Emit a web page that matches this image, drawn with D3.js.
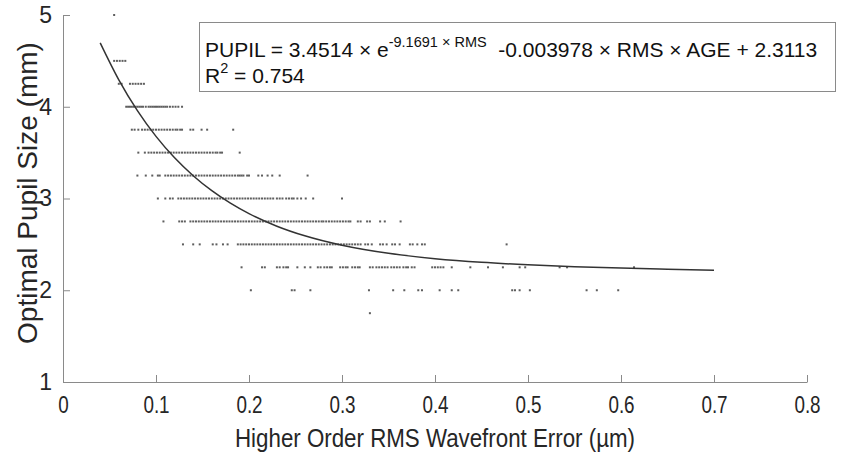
<!DOCTYPE html>
<html><head><meta charset="utf-8">
<script src="https://cdn.jsdelivr.net/npm/d3@7"></script>
<style>
body{margin:0;background:#fff;}
text{font-family:"Liberation Sans",Arial,Helvetica,sans-serif;}
</style></head>
<body><svg id="c" width="844" height="455"></svg>
<script>
// ---- data ----
const xTicks = [0, 0.1, 0.2, 0.3, 0.4, 0.5, 0.6, 0.7, 0.8];
const yTicks = [1, 2, 3, 4, 5];
const xTickLabels = ["0", "0.1", "0.2", "0.3", "0.4", "0.5", "0.6", "0.7", "0.8"];
const yTickLabels = ["1", "2", "3", "4", "5"];

// scatter: optimal pupil size level -> RMS values
const pupilLevels = [5, 4.5, 4.25, 4, 3.75, 3.5, 3.25, 3, 2.75, 2.5, 2.25, 2, 1.75];
const rms_5_00 = [0.055];
const rms_4_50 = [0.055,0.058,0.061,0.064,0.067];
const rms_4_25 = [0.060,0.063,0.072,0.075,0.078,0.081,0.084,0.087];
const rms_4_00 = [0.068,0.070,0.072,0.074,0.076,0.078,0.080,0.082,0.084,0.086,0.089,0.092,0.094,0.096,0.098,0.100,0.102,0.104,0.106,0.108,0.110,0.112,0.115,0.118,0.121,0.124,0.128];
const rms_3_75 = [0.074,0.077,0.081,0.085,0.088,0.091,0.094,0.097,0.100,0.103,0.106,0.109,0.112,0.115,0.118,0.121,0.123,0.126,0.128,0.137,0.140,0.149,0.155,0.183];
const rms_3_50 = [0.081,0.088,0.092,0.095,0.098,0.101,0.104,0.107,0.110,0.113,0.116,0.119,0.122,0.125,0.128,0.131,0.134,0.137,0.140,0.143,0.146,0.149,0.152,0.155,0.158,0.161,0.164,0.166,0.169,0.171,0.190];
const rms_3_25 = [0.080,0.089,0.096,0.102,0.104,0.110,0.113,0.116,0.119,0.122,0.125,0.128,0.131,0.134,0.137,0.140,0.143,0.146,0.149,0.152,0.155,0.158,0.161,0.164,0.167,0.170,0.173,0.176,0.179,0.182,0.185,0.188,0.190,0.192,0.194,0.198,0.200,0.210,0.214,0.220,0.225,0.233,0.263];
const rms_3_00 = [0.102,0.110,0.115,0.118,0.124,0.127,0.130,0.133,0.136,0.139,0.142,0.145,0.148,0.151,0.154,0.157,0.160,0.163,0.166,0.169,0.172,0.175,0.178,0.181,0.184,0.187,0.190,0.193,0.196,0.199,0.202,0.205,0.208,0.211,0.214,0.217,0.220,0.223,0.226,0.230,0.233,0.236,0.240,0.243,0.246,0.248,0.252,0.256,0.261,0.269,0.300];
const rms_2_75 = [0.108,0.125,0.128,0.131,0.137,0.140,0.143,0.146,0.149,0.152,0.155,0.158,0.161,0.164,0.167,0.170,0.173,0.176,0.179,0.182,0.185,0.188,0.191,0.194,0.197,0.200,0.203,0.206,0.209,0.212,0.215,0.218,0.221,0.224,0.227,0.230,0.233,0.236,0.239,0.242,0.245,0.248,0.251,0.254,0.257,0.260,0.263,0.266,0.269,0.272,0.275,0.278,0.280,0.283,0.286,0.289,0.292,0.295,0.298,0.301,0.304,0.307,0.309,0.317,0.320,0.327,0.330,0.341,0.346,0.363];
const rms_2_50 = [0.129,0.140,0.147,0.161,0.165,0.172,0.177,0.188,0.191,0.194,0.197,0.200,0.203,0.206,0.209,0.212,0.215,0.218,0.221,0.224,0.227,0.230,0.233,0.236,0.239,0.242,0.245,0.248,0.251,0.254,0.257,0.260,0.263,0.266,0.269,0.272,0.275,0.278,0.281,0.284,0.287,0.290,0.293,0.296,0.299,0.302,0.305,0.308,0.311,0.314,0.317,0.320,0.325,0.328,0.332,0.341,0.344,0.348,0.354,0.357,0.362,0.373,0.376,0.381,0.386,0.389,0.477];
const rms_2_25 = [0.192,0.214,0.217,0.230,0.233,0.237,0.240,0.242,0.252,0.260,0.266,0.274,0.277,0.281,0.284,0.287,0.289,0.298,0.301,0.304,0.306,0.311,0.314,0.317,0.319,0.330,0.333,0.337,0.340,0.343,0.346,0.349,0.353,0.356,0.359,0.362,0.366,0.369,0.371,0.375,0.378,0.397,0.400,0.403,0.406,0.409,0.418,0.438,0.457,0.473,0.491,0.497,0.534,0.542,0.614];
const rms_2_00 = [0.202,0.246,0.249,0.266,0.329,0.355,0.367,0.382,0.386,0.405,0.418,0.425,0.483,0.486,0.491,0.502,0.563,0.574,0.597];
const rms_1_75 = [0.330];
const rmsByLevel = [rms_5_00, rms_4_50, rms_4_25, rms_4_00, rms_3_75, rms_3_50, rms_3_25, rms_3_00, rms_2_75, rms_2_50, rms_2_25, rms_2_00, rms_1_75];

// fitted curve
const fitRms   = [0.04, 0.06, 0.08, 0.10, 0.12, 0.14, 0.16, 0.18, 0.20, 0.23, 0.26, 0.30, 0.35, 0.40, 0.45, 0.50, 0.55, 0.60, 0.65, 0.70];
const fitPupil = [4.697, 4.294, 3.958, 3.677, 3.443, 3.248, 3.085, 2.949, 2.835, 2.698, 2.593, 2.490, 2.402, 2.344, 2.304, 2.277, 2.257, 2.242, 2.230, 2.219];

// ---- drawing ----
const svg = d3.select("#c");
const L = 63, R = 807, T = 15, B = 382;
const x = d3.scaleLinear().domain([0, 0.8]).range([L, R]);
const y = d3.scaleLinear().domain([1, 5]).range([B, T]);
const axisCol = "#8a8a8a", textCol = "#262626";

// scatter
const pts = [];
pupilLevels.forEach((lv, i) => rmsByLevel[i].forEach(v => pts.push([v, lv])));
svg.append("g").selectAll("rect").data(pts).join("rect")
  .attr("x", d => x(d[0]) - 1).attr("y", d => y(d[1]) - 1)
  .attr("width", 2).attr("height", 2)
  .attr("fill", "#5e5e5e");

// fit line
const fit = fitRms.map((v, i) => [v, fitPupil[i]]);
svg.append("path").datum(fit)
  .attr("d", d3.line().x(d => x(d[0])).y(d => y(d[1])).curve(d3.curveMonotoneX))
  .attr("fill", "none").attr("stroke", "#333").attr("stroke-width", 1.5);

// axes
const xa = svg.append("g").attr("transform", `translate(0,${B})`)
  .call(d3.axisBottom(x).tickValues(xTicks).tickFormat((d, i) => xTickLabels[i]).tickSizeInner(-7).tickSizeOuter(0).tickPadding(15));
const ya = svg.append("g").attr("transform", `translate(${L},0)`)
  .call(d3.axisLeft(y).tickValues(yTicks).tickFormat((d, i) => yTickLabels[i]).tickSizeInner(-7).tickSizeOuter(0).tickPadding(11));
[xa, ya].forEach(a => {
  a.select(".domain").attr("stroke", axisCol);
  a.selectAll(".tick line").attr("stroke", axisCol);
  a.selectAll(".tick text").attr("fill", textCol).attr("font-size", 23).attr("font-family", "Liberation Sans, Arial, sans-serif");
});
xa.selectAll(".tick text").attr("transform", "scale(0.82,1)");

// axis titles
svg.append("text").attr("x", (L + R) / 2).attr("y", 447).attr("text-anchor", "middle")
  .attr("font-size", 26).attr("fill", textCol)
  .attr("textLength", 400).attr("lengthAdjust", "spacingAndGlyphs")
  .text("Higher Order RMS Wavefront Error (µm)");
svg.append("text").attr("transform", `translate(37,193) rotate(-90)`).attr("text-anchor", "middle")
  .attr("font-size", 28).attr("fill", textCol).text("Optimal Pupil Size (mm)");

// equation box
svg.append("rect").attr("x", 199.5).attr("y", 22.5).attr("width", 636).attr("height", 69)
  .attr("fill", "#fff").attr("stroke", "#8a8a8a").attr("stroke-width", 1);
const eq = svg.append("text").attr("x", 205).attr("y", 57).attr("font-size", 21).attr("fill", "#111");
eq.append("tspan").text("PUPIL = 3.4514 \u00d7 e");
eq.append("tspan").attr("dy", -10).attr("font-size", 14.5).text("-9.1691 \u00d7 RMS");
eq.append("tspan").attr("dy", 10).text("\u00a0 -0.003978 \u00d7 RMS \u00d7 AGE + 2.3113");
const r2 = svg.append("text").attr("x", 205).attr("y", 83).attr("font-size", 21).attr("fill", "#111");
r2.append("tspan").text("R");
r2.append("tspan").attr("dy", -10).attr("font-size", 14.5).text("2");
r2.append("tspan").attr("dy", 10).text(" = 0.754");
</script></body></html>
